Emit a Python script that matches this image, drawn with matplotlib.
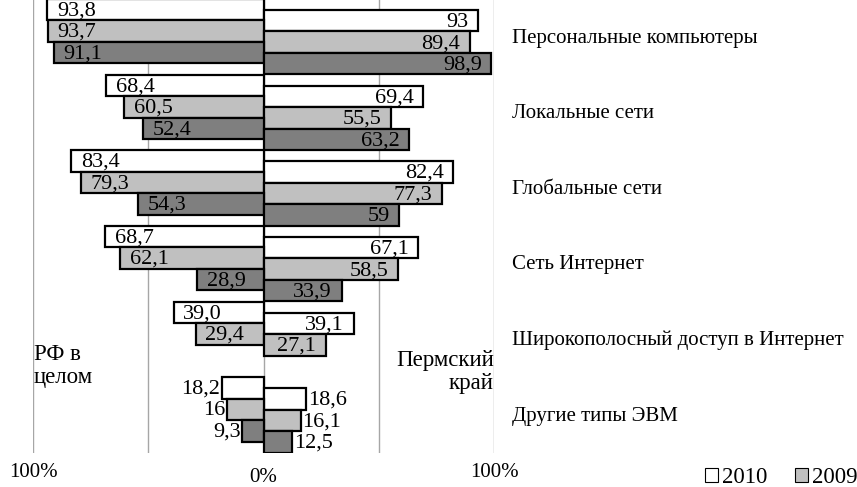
import numpy as np
import matplotlib
matplotlib.use('Agg')
import matplotlib.pyplot as plt
from matplotlib.patches import Patch

plt.rcParams['font.family'] = ['Liberation Serif', 'DejaVu Serif']

# ==== data ====
categories = ['Персональные компьютеры', 'Локальные сети', 'Глобальные сети',
              'Сеть Интернет', 'Широкополосный доступ в Интернет', 'Другие типы ЭВМ']
# РФ в целом (left side)
rf_2010 = ['93,8', '68,4', '83,4', '68,7', '39,0', '18,2']
rf_2009 = ['93,7', '60,5', '79,3', '62,1', '29,4', '16']
rf_2008 = ['91,1', '52,4', '54,3', '28,9', None, '9,3']
# Пермский край (right side)
perm_2010 = ['93', '69,4', '82,4', '67,1', '39,1', '18,6']
perm_2009 = ['89,4', '55,5', '77,3', '58,5', '27,1', '16,1']
perm_2008 = ['98,9', '63,2', '59', '33,9', None, '12,5']
years = ['2010', '2009', '2008']
colors = ['white', '#c0c0c0', '#7f7f7f']

def to_num(s):
    return np.nan if s is None else float(s.replace(',', '.'))

fig = plt.figure(figsize=(8.57, 4.87), dpi=100)
ax = fig.add_axes([33 / 857, 1 - 453 / 487, (494 - 33) / 857, 453 / 487 + 0.002])

h = 0.283
right_shift = 0.146
outside = [False, False, False, False, False, True]
vfs = 16

for g in [-100, -50, 0, 50, 100]:
    ax.axvline(g, color='#a6a6a6', lw=1, zorder=0)

left_sets = [rf_2010, rf_2009, rf_2008]
right_sets = [perm_2010, perm_2009, perm_2008]
for j in range(3):
    for i in range(len(categories)):
        # left side
        s = left_sets[j][i]
        if s is not None:
            v = to_num(s)
            y = i + h * (j + 0.5)
            ax.barh(y, -v, height=h, color=colors[j], edgecolor='black', lw=1.6, zorder=2)
            if outside[i]:
                ax.annotate(s, (-v, y), xytext=(-1, -1), textcoords='offset points',
                            ha='right', va='center', fontsize=vfs, zorder=3)
            else:
                ax.annotate(s, (-v, y), xytext=(7, -1), textcoords='offset points',
                            ha='left', va='center', fontsize=vfs, zorder=3)
        # right side
        s = right_sets[j][i]
        if s is not None:
            v = to_num(s)
            y = i + right_shift + h * (j + 0.5)
            ax.barh(y, v, height=h, color=colors[j], edgecolor='black', lw=1.6, zorder=2)
            if outside[i]:
                ax.annotate(s, (v, y), xytext=(1, -1), textcoords='offset points',
                            ha='left', va='center', fontsize=vfs, zorder=3)
            else:
                ax.annotate(s, (v, y), xytext=(-7, -1), textcoords='offset points',
                            ha='right', va='center', fontsize=vfs, zorder=3)

ax.set_xlim(-100, 100)
ax.set_ylim(len(categories), 0)
for sp in ax.spines.values():
    sp.set_visible(False)
ax.set_yticks([])
ax.set_xticks([-100, 100])
ax.set_xticklabels(['100%', '100%'], fontsize=15)
ax.set_xticks([0], minor=True)
ax.set_xticklabels(['0%'], minor=True, fontsize=15)
ax.tick_params(axis='x', which='major', length=0, pad=7)
ax.tick_params(axis='x', which='minor', length=0, pad=11)

# category labels on the right
for i, c in enumerate(categories):
    fig.text(512 / 857, 1 - (i * 75.5 + 38.5) / 487, c, ha='left', va='center', fontsize=15)

fig.text(34 / 857, 1 - 366 / 487, 'РФ в\nцелом', ha='left', va='center', fontsize=16.5, linespacing=1.1)
fig.text(494 / 857, 1 - 372 / 487, 'Пермский\nкрай', ha='right', va='center', fontsize=16.5,
         multialignment='right', linespacing=1.1)

handles = [Patch(facecolor=colors[k], edgecolor='black', lw=0.8) for k in range(2)]
fig.legend(handles, years[:2], loc='center left', bbox_to_anchor=(705 / 857, 1 - 477.5 / 487),
           ncol=2, frameon=False, fontsize=16.5, handlelength=0.55, handleheight=0.55,
           handletextpad=0.2, columnspacing=1.2, borderaxespad=0, borderpad=0)

fig.savefig('out.png', dpi=100)
